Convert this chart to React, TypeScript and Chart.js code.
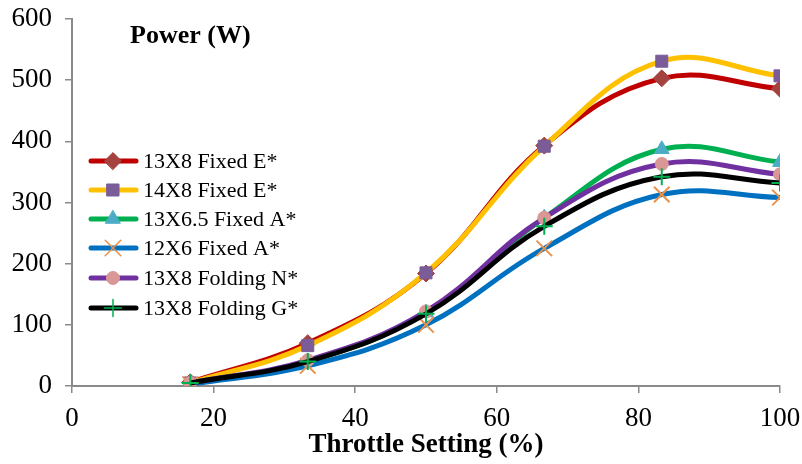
import React, { useEffect, useRef } from 'react';
import { Chart, registerables } from 'chart.js';
import { drawPoint } from 'chart.js/helpers';

Chart.register(...registerables);

const throttle = [16.7, 33.3, 50, 66.7, 83.3, 100];
const seriesNames = [
  '13X8 Fixed E*',
  '14X8 Fixed E*',
  '13X6.5 Fixed A*',
  '12X6 Fixed A*',
  '13X8 Folding N*',
  '13X8 Folding G*',
];
const fixed13x8E = [6, 70, 184, 393, 503, 486];
const fixed14x8E = [5, 66, 185, 392, 531, 507];
const fixed13x65A = [5, 40, 120, 275, 387, 366];
const fixed12x6A = [3, 33, 100, 225, 313, 308];
const folding13x8N = [5, 42, 122, 275, 363, 346];
const folding13x8G = [5, 40, 118, 261, 342, 332];
const yTicks = [0, 100, 200, 300, 400, 500, 600];
const xTicks = [0, 20, 40, 60, 80, 100];

const allValues = [fixed13x8E, fixed14x8E, fixed13x65A, fixed12x6A, folding13x8N, folding13x8G];
const lineColors = ['#C00000', '#FFC000', '#00B050', '#0070C0', '#7030A0', '#000000'];
const markerStyles = ['rectRot', 'rect', 'triangle', 'crossRot', 'circle', 'cross'];
const markerFill = ['#A3423E', '#7A5C99', '#4BACC6', '#E8924E', '#D99795', '#00B050'];
const markerRadius = [8.5, 8.5, 8.5, 11, 6.5, 8.5];

const SERIF = '"Liberation Serif", "Times New Roman", serif';
const AXIS_GRAY = '#8A8A8A';

const overlayPlugin = {
  id: 'overlayLegend',
  afterDraw(chart: any) {
    const ctx = chart.ctx;
    ctx.save();
    // title
    ctx.fillStyle = '#000';
    ctx.font = `bold 26px ${SERIF}`;
    ctx.textAlign = 'left';
    ctx.textBaseline = 'middle';
    ctx.fillText('Power (W)', 130, 36);
    // legend
    const rowY = [161, 190, 219, 248, 278, 308];
    seriesNames.forEach((name, i) => {
      const y = rowY[i];
      ctx.strokeStyle = lineColors[i];
      ctx.lineWidth = 5;
      ctx.lineCap = 'round';
      ctx.beginPath();
      ctx.moveTo(91, y);
      ctx.lineTo(136, y);
      ctx.stroke();
      const cross = markerStyles[i] === 'cross' || markerStyles[i] === 'crossRot';
      ctx.fillStyle = markerFill[i];
      ctx.strokeStyle = markerFill[i];
      ctx.lineWidth = cross ? 1.5 : 1;
      drawPoint(ctx, { pointStyle: markerStyles[i], radius: markerRadius[i], rotation: 0, borderWidth: cross ? 1.5 : 1 }, 113, y);
      ctx.fillStyle = '#000';
      ctx.font = `22px ${SERIF}`;
      ctx.textAlign = 'left';
      ctx.textBaseline = 'middle';
      ctx.fillText(name, 143, y + 1);
    });
    ctx.restore();
  },
};

export default function App() {
  const canvasRef = useRef<HTMLCanvasElement | null>(null);

  useEffect(() => {
    const canvas = canvasRef.current;
    if (!canvas) return;
    const datasets = allValues.map((vals, i) => {
      const cross = markerStyles[i] === 'cross' || markerStyles[i] === 'crossRot';
      return {
        label: seriesNames[i],
        data: vals.map((v, j) => ({ x: throttle[j], y: v })),
        borderColor: lineColors[i],
        backgroundColor: markerFill[i],
        borderWidth: 5,
        tension: 0.4,
        pointStyle: markerStyles[i],
        pointRadius: markerRadius[i],
        pointBackgroundColor: markerFill[i],
        pointBorderColor: markerFill[i],
        pointBorderWidth: cross ? 2 : 1,
        order: 10 - i,
        fill: false,
      };
    });
    const chart = new Chart(canvas, {
      type: 'line',
      data: { datasets },
      plugins: [overlayPlugin],
      options: {
        animation: false,
        responsive: false,
        devicePixelRatio: 1,
        layout: { padding: { top: 19, right: 22, bottom: 0, left: 0 } },
        plugins: {
          legend: { display: false },
          tooltip: { enabled: false },
          title: { display: false },
        },
        scales: {
          x: {
            type: 'linear',
            min: 0,
            max: 100,
            afterBuildTicks: (axis: any) => {
              axis.ticks = xTicks.map((v) => ({ value: v }));
            },
            afterFit: (axis: any) => {
              axis.height = 78;
              axis.paddingLeft = 0;
              axis.paddingRight = 0;
            },
            grid: { display: true, drawOnChartArea: false, drawTicks: true, tickLength: 7, color: AXIS_GRAY, lineWidth: 1.5 },
            border: { display: true, color: AXIS_GRAY, width: 2 },
            ticks: { color: '#000', font: { family: SERIF, size: 27 }, padding: 10, maxRotation: 0 },
            title: {
              display: true,
              text: 'Throttle Setting (%)',
              color: '#000',
              font: { family: SERIF, size: 27, weight: 'bold' },
              padding: { top: 0, bottom: 3 },
            },
          },
          y: {
            type: 'linear',
            min: 0,
            max: 600,
            afterBuildTicks: (axis: any) => {
              axis.ticks = yTicks.map((v) => ({ value: v }));
            },
            afterFit: (axis: any) => {
              axis.width = 72;
              axis.paddingTop = 0;
              axis.paddingBottom = 0;
            },
            grid: { display: true, drawOnChartArea: false, drawTicks: true, tickLength: 7, color: AXIS_GRAY, lineWidth: 1.5 },
            border: { display: true, color: AXIS_GRAY, width: 2 },
            ticks: { color: '#000', font: { family: SERIF, size: 27 }, padding: 13 },
          },
        },
      },
    });
    return () => chart.destroy();
  }, []);

  return (
    <div style={{ position: 'absolute', left: 0, top: 0, width: 802, height: 464, background: '#fff' }}>
      <canvas ref={canvasRef} width={802} height={464} style={{ width: 802, height: 464, display: 'block' }} />
    </div>
  );
}
